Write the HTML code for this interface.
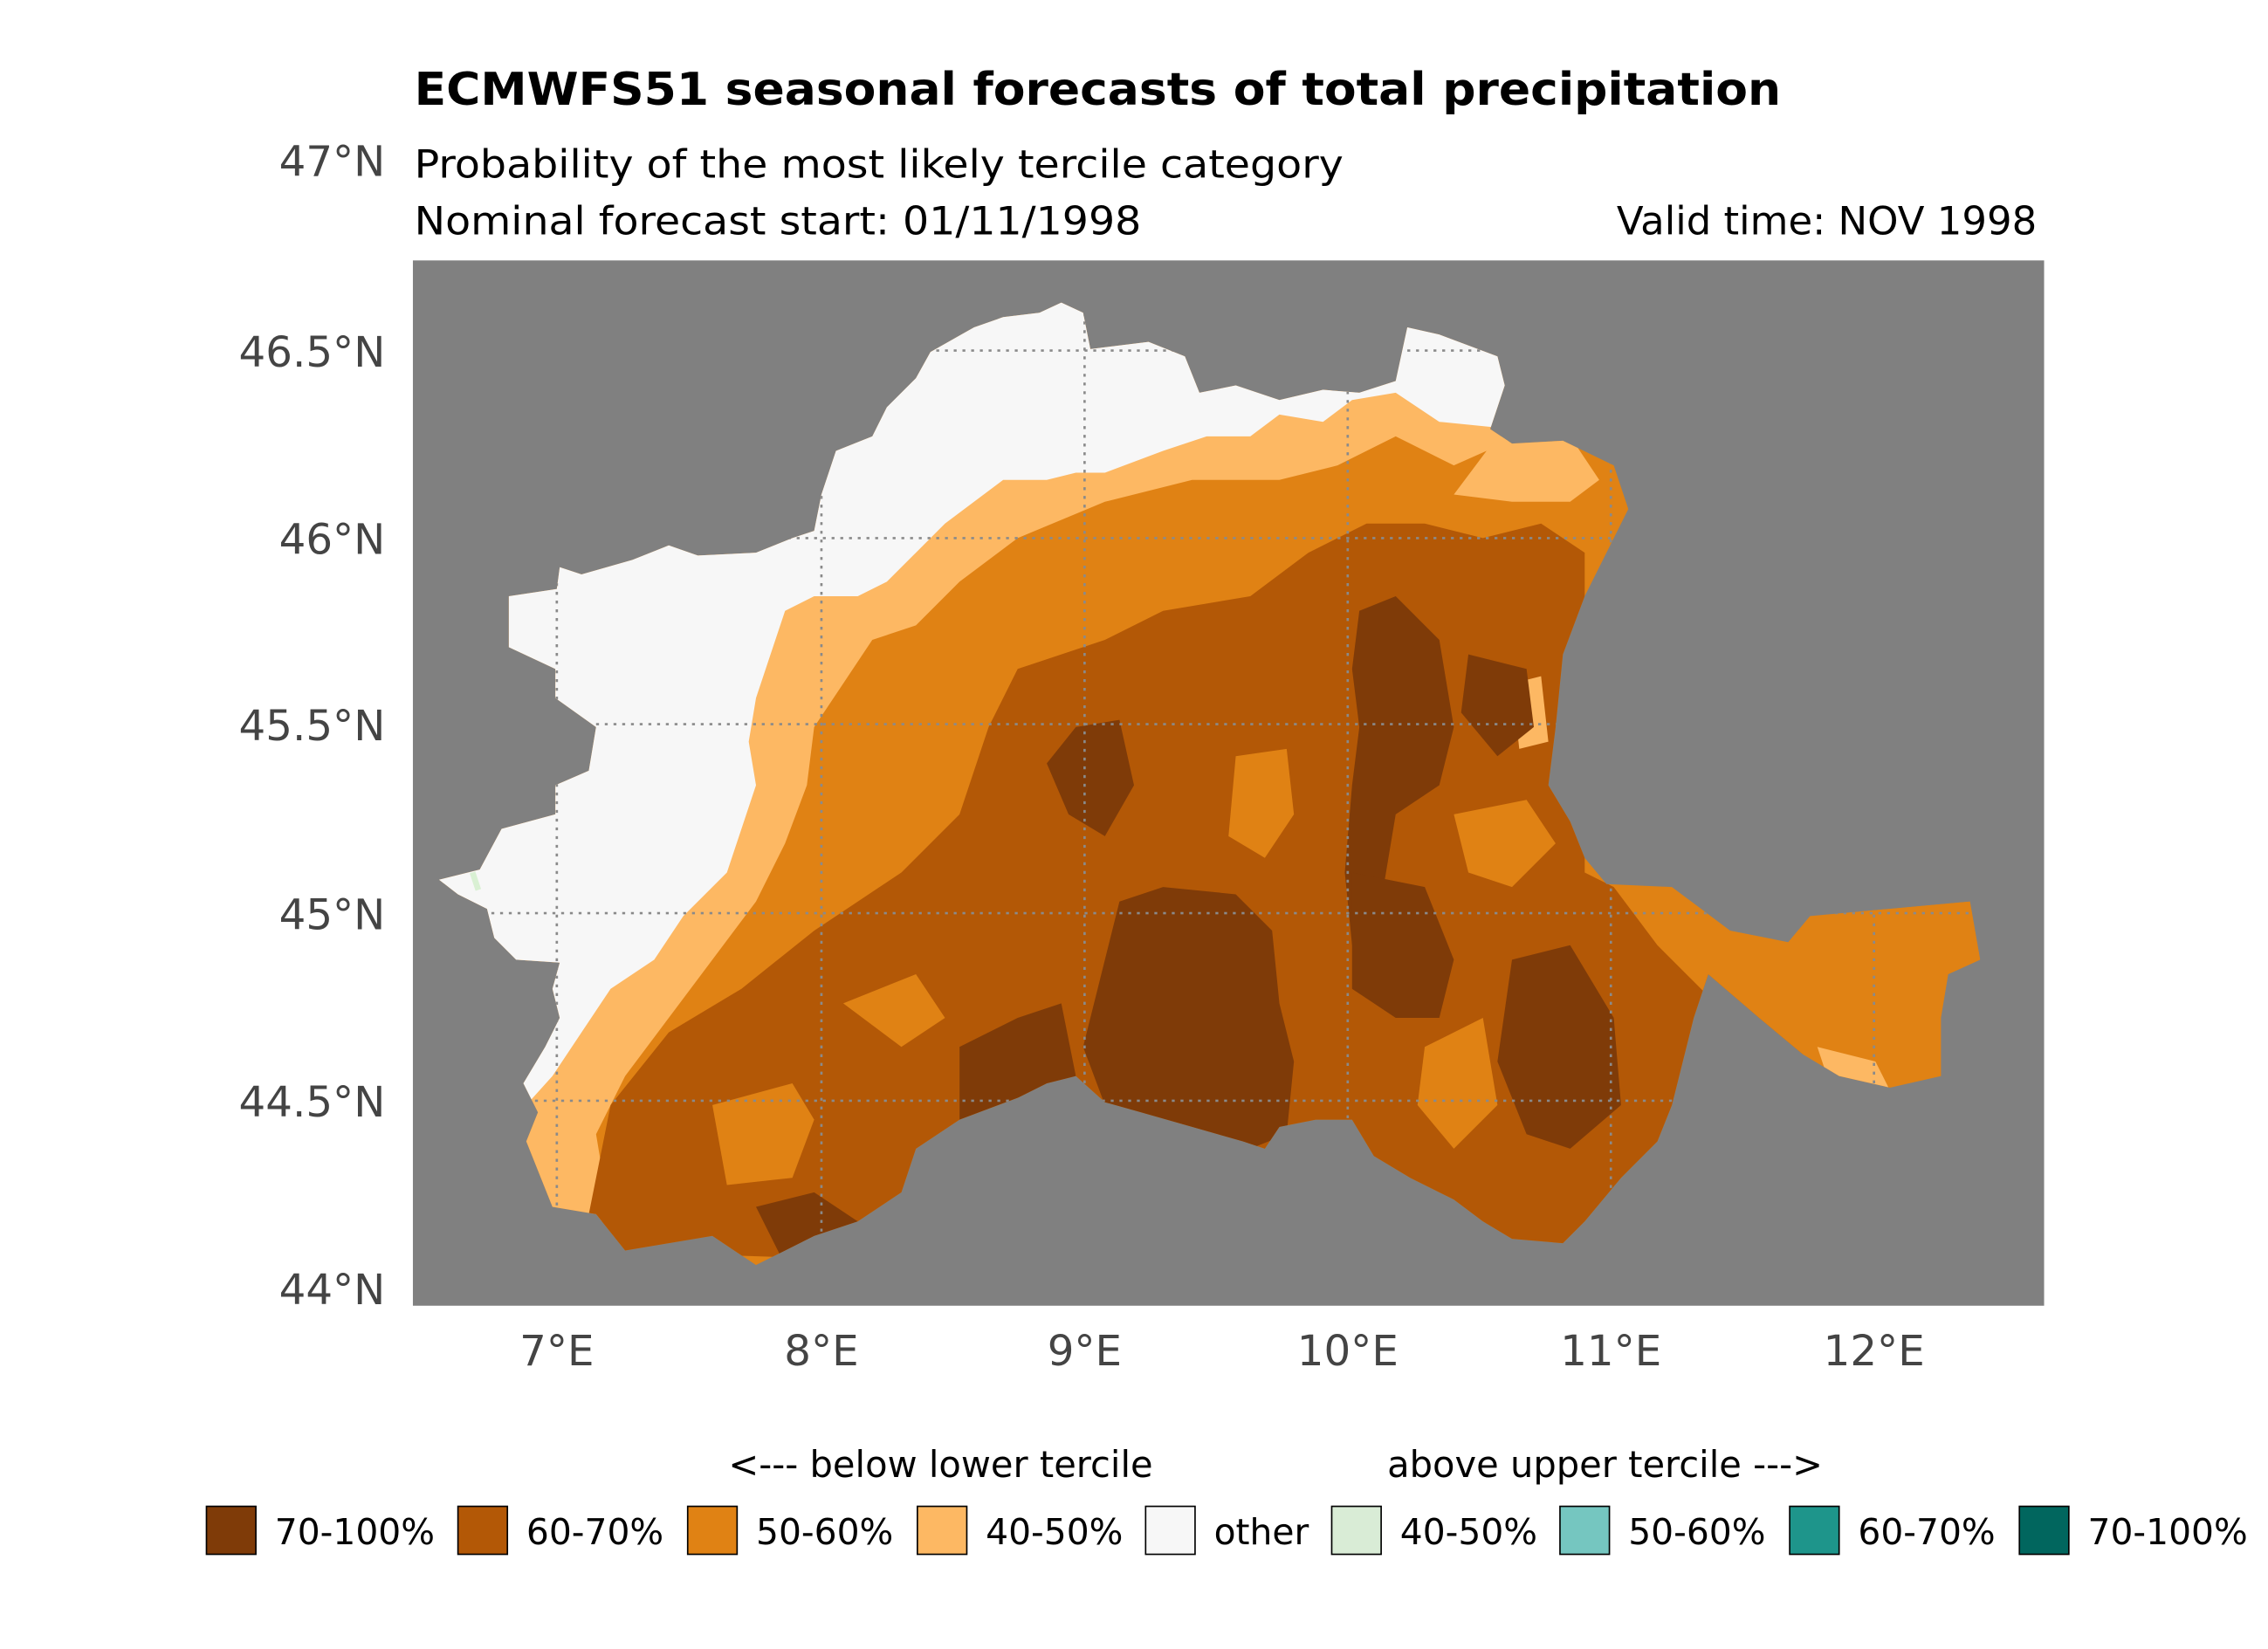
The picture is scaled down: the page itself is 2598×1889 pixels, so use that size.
<!DOCTYPE html>
<html><head><meta charset="utf-8"><style>
html,body{margin:0;padding:0;background:#fff}
svg{display:block}
text{font-family:"DejaVu Sans","Liberation Sans",sans-serif}
</style></head><body>
<svg width="2598" height="1889" viewBox="0 0 1560 1134" xmlns="http://www.w3.org/2000/svg">
<rect width="1560" height="1134" fill="#fff"/>
<text x="285" y="72" font-size="31" font-weight="bold" fill="#000" textLength="940" lengthAdjust="spacingAndGlyphs">ECMWFS51 seasonal forecasts of total precipitation</text>
<text x="285" y="122" font-size="27" fill="#000" textLength="639" lengthAdjust="spacingAndGlyphs">Probability of the most likely tercile category</text>
<text x="285" y="161" font-size="27" fill="#000" textLength="500" lengthAdjust="spacingAndGlyphs">Nominal forecast start: 01/11/1998</text>
<text x="1401" y="161" font-size="27" fill="#000" text-anchor="end">Valid time: NOV 1998</text>

<rect x="284" y="179" width="1122" height="719" fill="#808080"/>
<defs>
<clipPath id="land"><path id="lp" d="M302,605 L330,598 L345,570 L382,560 L382,540 L405,530 L410,500 L382,480 L382,460 L350,445 L350,410 L383,405 L385,390 L400,395 L435,385 L460,375 L480,382 L520,380 L545,370 L560,365 L565,340 L575,310 L600,300 L610,280 L630,260 L640,242 L670,225 L690,218 L715,215 L730,208 L745,215 L750,240 L790,235 L815,245 L825,270 L850,265 L880,275 L910,268 L935,270 L960,262 L968,225 L990,230 L1030,245 L1035,265 L1025,295 L1040,305 L1075,303 L1110,320 L1120,350 L1105,380 L1090,410 L1075,450 L1070,500 L1065,540 L1080,565 L1090,590 L1105,608 L1150,610 L1170,625 L1190,640 L1230,648 L1245,630 L1300,625 L1355,620 L1362,660 L1340,670 L1335,700 L1335,740 L1300,748 L1265,740 L1240,725 L1210,700 L1175,670 L1165,700 L1150,760 L1140,785 L1115,810 L1090,840 L1075,855 L1040,852 L1020,840 L1000,825 L970,810 L945,795 L930,770 L905,770 L880,775 L870,790 L855,785 L820,775 L785,765 L760,758 L740,740 L720,745 L700,755 L660,770 L630,790 L620,820 L590,840 L560,850 L540,860 L520,870 L505,860 L490,850 L460,855 L430,860 L410,835 L380,830 L370,805 L362,785 L370,765 L360,745 L375,720 L385,700 L380,680 L385,662 L355,660 L340,645 L335,625 L315,615 Z"/></clipPath>
</defs>
<g clip-path="url(#land)">
<rect x="280" y="180" width="1130" height="720" fill="#e08214"/>
<path fill="#fdb863" d="M300,180 L1040,180 L1045,300 L1000,320 L960,300 L920,320 L880,330 L820,330 L760,345 L700,370 L660,400 L630,430 L600,440 L580,470 L560,500 L555,540 L540,580 L520,620 L490,660 L460,700 L430,740 L410,780 L420,840 L380,840 L300,840 Z"/>
<path fill="#fdb863" d="M1030,300 L1080,300 L1100,330 L1080,345 L1040,345 L1000,340 Z"/>
<path fill="#b35806" d="M400,860 L420,760 L460,710 L510,680 L560,640 L620,600 L660,560 L680,500 L700,460 L760,440 L800,420 L860,410 L900,380 L940,360 L980,360 L1020,370 L1060,360 L1090,380 L1090,600 L1110,610 L1140,640 L1180,650 L1220,660 L1240,680 L1240,760 L1160,780 L1100,870 L700,870 Z"/>
<path fill="#e08214" d="M850,520 L885,515 L890,560 L870,590 L845,575 Z"/>
<path fill="#e08214" d="M490,760 L545,745 L560,770 L545,810 L500,815 Z"/>
<path fill="#e08214" d="M580,690 L630,670 L650,700 L620,720 Z"/>
<path fill="#e08214" d="M1110,610 L1170,620 L1240,640 L1300,620 L1370,620 L1370,760 L1250,760 L1180,690 L1140,650 Z"/>
<path fill="#e08214" d="M1000,560 L1050,550 L1070,580 L1040,610 L1010,600 Z"/>
<path fill="#e08214" d="M980,720 L1020,700 L1030,760 L1000,790 L975,760 Z"/>
<path fill="#fdb863" d="M1040,470 L1060,465 L1065,510 L1045,515 Z"/>
<path fill="#fdb863" d="M1250,720 L1290,730 L1300,750 L1260,750 Z"/>
<path fill="#7f3b08" d="M770,620 L800,610 L850,615 L875,640 L880,690 L890,730 L885,780 L860,790 L820,780 L760,760 L745,720 L755,680 Z"/>
<path fill="#7f3b08" d="M935,420 L960,410 L990,440 L1000,500 L990,540 L960,560 L950,620 L930,650 L925,600 L930,540 L935,500 L930,460 Z"/>
<path fill="#7f3b08" d="M930,600 L980,610 L1000,660 L990,700 L960,700 L930,680 Z"/>
<path fill="#7f3b08" d="M1040,660 L1080,650 L1110,700 L1115,760 L1080,790 L1050,780 L1030,730 Z"/>
<path fill="#7f3b08" d="M740,500 L770,495 L780,540 L760,575 L735,560 L720,525 Z"/>
<path fill="#7f3b08" d="M660,720 L700,700 L730,690 L740,740 L700,755 L660,770 Z"/>
<path fill="#7f3b08" d="M1010,450 L1050,460 L1055,500 L1030,520 L1005,490 Z"/>
<path fill="#7f3b08" d="M520,830 L560,820 L590,840 L540,870 Z"/>
<path fill="#f7f7f7" d="M280,180 L1040,180 L1040,295 L990,290 L960,270 L930,275 L910,290 L880,285 L860,300 L830,300 L800,310 L760,325 L740,325 L720,330 L690,330 L670,345 L650,360 L630,380 L610,400 L590,410 L560,410 L540,420 L530,450 L520,480 L515,510 L520,540 L510,570 L500,600 L470,630 L450,660 L420,680 L400,710 L380,740 L362,760 L280,760 Z"/>
</g>
<path d="M325,600 L329,612" stroke="#d9f0d3" stroke-width="4"/>
<g stroke="#8a8a8a" stroke-width="1.6" stroke-dasharray="2,4" fill="none" clip-path="url(#land)">
<line x1="383" y1="179" x2="383" y2="898"/><line x1="565" y1="179" x2="565" y2="898"/>
<line x1="746" y1="179" x2="746" y2="898"/><line x1="927" y1="179" x2="927" y2="898"/>
<line x1="1108" y1="179" x2="1108" y2="898"/><line x1="1289" y1="179" x2="1289" y2="898"/>
<line x1="284" y1="241" x2="1406" y2="241"/><line x1="284" y1="370" x2="1406" y2="370"/>
<line x1="284" y1="498" x2="1406" y2="498"/><line x1="284" y1="628" x2="1406" y2="628"/>
<line x1="284" y1="757" x2="1406" y2="757"/>
</g>

<g font-size="29" fill="#444" text-anchor="end">
<text x="265" y="121">47°N</text><text x="265" y="252">46.5°N</text><text x="265" y="381">46°N</text>
<text x="265" y="509">45.5°N</text><text x="265" y="639">45°N</text><text x="265" y="768">44.5°N</text><text x="265" y="897">44°N</text>
</g>
<g font-size="29" fill="#444" text-anchor="middle">
<text x="383" y="939">7°E</text><text x="565" y="939">8°E</text><text x="746" y="939">9°E</text>
<text x="927" y="939">10°E</text><text x="1108" y="939">11°E</text><text x="1289" y="939">12°E</text>
</g>

<g fill="#000">
<text x="647" y="1016" font-size="25" text-anchor="middle">&lt;--- below lower tercile</text>
<text x="1104" y="1016" font-size="25" text-anchor="middle">above upper tercile ---&gt;</text>
<g stroke="#000" stroke-width="1">
<rect x="142" y="1036" width="34" height="33" fill="#7f3b08"/>
<rect x="315" y="1036" width="34" height="33" fill="#b35806"/>
<rect x="473" y="1036" width="34" height="33" fill="#e08214"/>
<rect x="631" y="1036" width="34" height="33" fill="#fdb863"/>
<rect x="788" y="1036" width="34" height="33" fill="#f7f7f7"/>
<rect x="916" y="1036" width="34" height="33" fill="#d9ecd6"/>
<rect x="1073" y="1036" width="34" height="33" fill="#75c6c0"/>
<rect x="1231" y="1036" width="34" height="33" fill="#1e958b"/>
<rect x="1389" y="1036" width="34" height="33" fill="#01665e"/>
</g>
<g font-size="24.5">
<text x="189" y="1062">70-100%</text><text x="362" y="1062">60-70%</text><text x="520" y="1062">50-60%</text>
<text x="678" y="1062">40-50%</text><text x="835" y="1062">other</text><text x="963" y="1062">40-50%</text>
<text x="1120" y="1062">50-60%</text><text x="1278" y="1062">60-70%</text><text x="1436" y="1062">70-100%</text>
</g>
</g>
</svg>
</body></html>
